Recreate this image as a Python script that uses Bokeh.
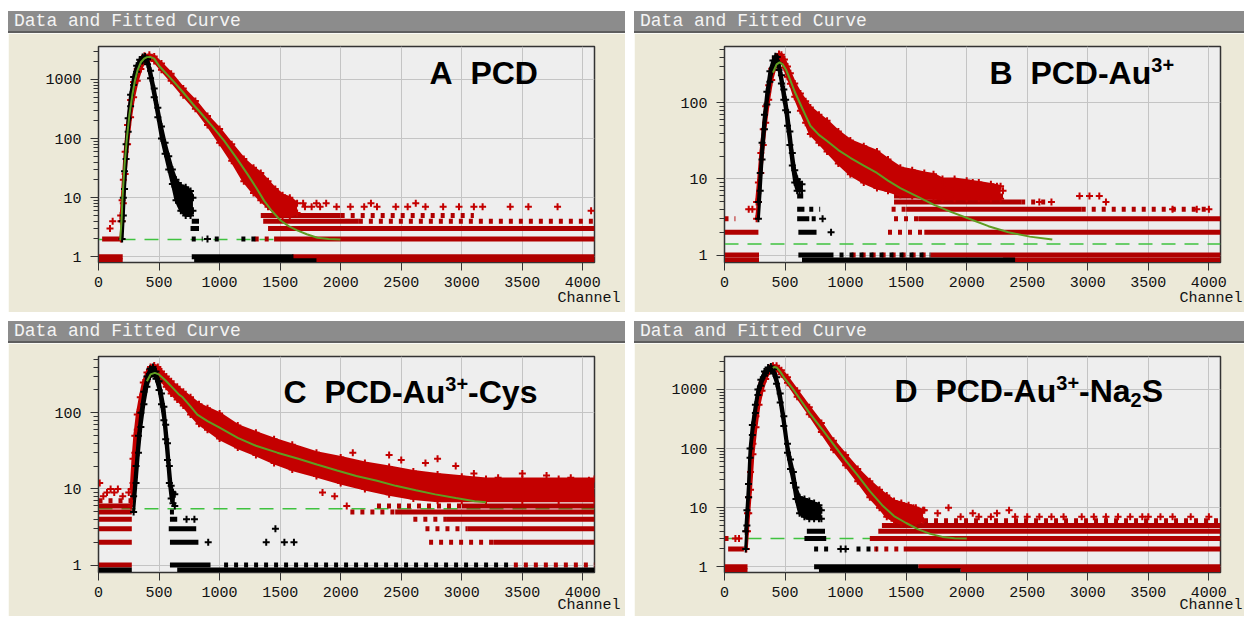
from bokeh.plotting import figure
from bokeh.layouts import column, row
from bokeh.models import Range1d, FixedTicker, Label, Span, NumeralTickFormatter, Spacer, Div, Title
from bokeh.embed import file_html
from bokeh.resources import INLINE

# ---------------- data ----------------
X_TICKS = [0, 500, 1000, 1500, 2000, 2500, 3000, 3500, 4000]
Y_MAJOR = [1, 10, 100, 1000]
Y_MINOR = [2, 3, 4, 5, 6, 7, 8, 9, 20, 30, 40, 50, 60, 70, 80, 90,
           200, 300, 400, 500, 600, 700, 800, 900, 2000, 3000]

# Panel A  PCD
A_BG = 1.95
A_FIT_CH = [179, 190, 198, 215, 234, 255, 281, 300, 322, 350, 377, 400, 427, 460, 500, 560, 625, 700, 780,
            845, 940, 1037, 1130, 1230, 1300, 1367, 1430, 1504, 1570, 1641, 1720, 1807, 1900, 1998]
A_FIT_Y = [1.9, 4, 10, 35, 100, 250, 570, 930, 1420, 1950, 2240, 2380, 2400, 2250, 1700, 1250, 900, 600, 380,
           270, 160, 92, 50, 25, 15, 8.9, 6.0, 4.1, 3.3, 2.8, 2.4, 2.1, 2.0, 1.95]
A_DAT_CH = [185, 195, 205, 220, 240, 265, 290, 320, 350, 380, 420, 460, 520, 600, 700, 800, 900, 1000, 1100,
            1200, 1280, 1340, 1400, 1460, 1520, 1580, 1640]
A_DAT_HI = [4, 9, 20, 60, 170, 450, 900, 1500, 2100, 2500, 2600, 2450, 1850, 1250, 700, 430, 240, 145, 80,
            45, 32, 26, 19, 14, 11, 10, 8]
A_DAT_LO = [2, 4, 8, 25, 80, 230, 500, 950, 1500, 2050, 2200, 2050, 1450, 950, 540, 320, 170, 85, 42,
            19, 12, 9, 7, 5.5, 5, 5, 5.5]
A_IRF_CH = [195, 205, 215, 228, 245, 265, 290, 315, 340, 365, 385, 405, 430, 460, 490, 520, 550, 580, 610,
            640, 680, 720, 760, 780]
A_IRF_HI = [4, 10, 28, 80, 220, 550, 1100, 1700, 2150, 2400, 2450, 2200, 1400, 700, 330, 160, 85, 50, 30,
            20, 16, 15, 13, 10]
A_IRF_LO = [2, 5, 14, 45, 130, 350, 800, 1350, 1850, 2100, 2150, 1800, 1050, 500, 230, 100, 55, 30, 17,
            9, 6, 5, 5, 6]
A_RED_ROW_LV = [0, 0, 1, 1, 2, 2, 3, 4, 5]
A_RED_ROW_X0 = [0, 1750, 0, 1600, 30, 1450, 1400, 1360, 1340]
A_RED_ROW_X1 = [200, 4096, 200, 4096, 185, 4096, 4096, 2150, 2000]
A_RED_SPR_LV = [2, 4, 5]
A_RED_SPR_X0 = [1290, 2150, 2000]
A_RED_SPR_X1 = [1450, 4096, 3100]
A_BLK_ROW_LV = [0, 1, 3, 4]
A_BLK_ROW_X0 = [790, 770, 760, 770]
A_BLK_ROW_X1 = [1800, 1610, 830, 830]
A_BLK_SPR_LV = [2, 2, 2]
A_BLK_SPR_X0 = [770, 960, 1180]
A_BLK_SPR_X1 = [860, 1040, 1300]
A_RED_PT_CH = [95, 117, 183, 1690, 1705, 1760, 1800, 1830, 1880, 1966, 2080, 2194, 2250, 2300, 2455, 2553,
               2620, 2700, 2846, 2977, 3100, 3172, 3400, 3550, 3791, 4068]
A_RED_PT_Y = [3, 4, 5, 8, 7, 7, 8, 7, 8, 7, 7, 7, 8, 7, 7, 7, 8, 7, 7, 7, 7, 7, 7, 7, 7, 6]
A_BLK_PT_CH = [900]
A_BLK_PT_Y = [2]

# Panel B  PCD-Au3+
B_BG = 1.4
B_FIT_CH = [400, 430, 455, 480, 510, 544, 580, 627, 670, 709, 780, 847, 940, 1039, 1150, 1259, 1350, 1452,
            1590, 1726, 1870, 2020, 2180, 2344, 2520, 2707]
B_FIT_Y = [250, 320, 340, 320, 270, 198, 140, 96, 68, 50, 38, 31.6, 24, 19, 15, 12, 9.5, 7.6,
           5.9, 4.6, 3.7, 3.0, 2.4, 2.0, 1.75, 1.6]
B_DAT_CH = [265, 280, 300, 320, 340, 365, 390, 420, 450, 470, 495, 520, 544, 580, 627, 670, 709, 780, 847,
            940, 1039, 1150, 1259, 1350, 1452, 1550, 1650, 1726, 1800, 1900, 2000, 2100, 2200, 2280]
B_DAT_HI = [5, 9, 22, 45, 90, 170, 280, 390, 440, 430, 370, 300, 245, 180, 133, 105, 87, 70, 58,
            42, 32, 27, 23, 18, 14, 13, 12, 11.5, 10, 10, 9.5, 9, 8.5, 8]
B_DAT_LO = [3, 5, 12, 28, 55, 110, 200, 300, 350, 350, 290, 220, 178, 120, 79, 55, 39, 30, 23,
            16, 11.5, 9, 7.6, 7, 6.2, 6, 5.6, 5.6, 5.5, 5.5, 5.5, 5.5, 5.5, 5.5]
B_IRF_CH = [280, 295, 310, 330, 350, 375, 400, 420, 435, 450, 470, 490, 505, 520, 540, 560, 580, 600, 620, 640]
B_IRF_HI = [5, 12, 30, 70, 140, 260, 360, 410, 400, 330, 230, 150, 110, 75, 42, 22, 13, 10, 9, 8.5]
B_IRF_LO = [3, 7, 18, 45, 95, 190, 290, 350, 340, 270, 180, 110, 80, 50, 28, 15, 9, 7, 7, 7]
B_RED_ROW_LV = [0, 0, 1, 1, 2, 2, 3, 4, 5, 6]
B_RED_ROW_X0 = [0, 2300, 0, 1700, 0, 1650, 1600, 1500, 1400, 1400]
B_RED_ROW_X1 = [285, 4096, 285, 4096, 280, 4096, 4096, 2950, 2450, 2300]
B_RED_SPR_LV = [1, 2, 3, 3, 4, 4, 5]
B_RED_SPR_X0 = [1050, 1350, 0, 1400, 1380, 2950, 2450]
B_RED_SPR_X1 = [1700, 1650, 90, 1600, 1500, 4000, 2650]
B_BLK_ROW_LV = [0, 1, 2, 3, 4, 6]
B_BLK_ROW_X0 = [640, 610, 610, 600, 600, 600]
B_BLK_ROW_X1 = [2400, 900, 760, 700, 660, 650]
B_BLK_SPR_LV = [1, 3, 4]
B_BLK_SPR_X0 = [950, 720, 700]
B_BLK_SPR_X1 = [1700, 790, 790]
B_RED_PT_CH = [200, 230, 1480, 1550, 1600, 1650, 1700, 1750, 1800, 1850, 1900, 1950, 2000, 2050, 2100, 2250,
               2300, 2600, 2700, 2932, 3014, 3095, 3150, 3700, 3900, 4000, 1600, 1800, 2050]
B_RED_PT_Y = [4, 4, 8, 7, 8, 7, 8, 7, 8, 7, 8, 7, 8, 7, 8, 8, 7, 5, 5, 6, 6, 6, 5, 4, 4, 4, 9, 9, 9]
B_BLK_PT_CH = [880, 810]
B_BLK_PT_Y = [2, 3]

# Panel C  PCD-Au3+-Cys
C_BG = 5.5
C_FIT_CH = [400, 430, 465, 499, 550, 597, 662, 695, 760, 816, 900, 1000, 1150, 1300, 1477, 1650, 1803, 1970,
            2129, 2300, 2455, 2620, 2781, 2950, 3107, 3200]
C_FIT_Y = [260, 320, 335, 320, 270, 226, 176, 160, 122, 95, 78, 64, 47, 37, 30, 25, 21, 17.5,
           14.8, 12.8, 11, 9.6, 8.5, 7.6, 6.9, 6.7]
C_DAT_CH = [270, 285, 300, 320, 345, 370, 400, 430, 460, 490, 520, 560, 600, 650, 700, 760, 830, 900, 1000,
            1150, 1300, 1450, 1600, 1800, 2000, 2200, 2400, 2600, 2800, 3000, 3200, 3500, 3800, 4096]
C_DAT_HI = [10, 25, 50, 95, 160, 250, 340, 400, 420, 400, 350, 300, 260, 220, 190, 160, 130, 115, 98,
            68, 55, 45, 38, 30, 26, 22, 19.5, 17, 15.5, 14.5, 13.5, 13.5, 13.5, 13.5]
C_DAT_LO = [6, 12, 30, 60, 110, 180, 260, 320, 340, 320, 270, 220, 180, 150, 125, 95, 72, 60, 46,
            35, 28, 22, 18, 14.8, 12, 10, 8.5, 7.5, 7, 7, 7, 7, 7, 7]
C_IRF_CH = [290, 310, 330, 350, 375, 400, 425, 450, 475, 500, 520, 540, 555, 570, 585, 600, 615, 630]
C_IRF_HI = [8, 20, 50, 100, 190, 300, 380, 400, 350, 260, 180, 120, 70, 40, 20, 11, 9, 8.5]
C_IRF_LO = [5, 12, 30, 65, 130, 220, 300, 330, 280, 200, 130, 80, 45, 24, 12, 7.5, 6.5, 6]
C_RED_ROW_LV = [1, 2, 3, 4, 5, 6, 2, 3, 4, 5, 6]
C_RED_ROW_X0 = [0, 0, 0, 0, 0, 0, 3260, 3050, 2870, 2450, 3000]
C_RED_ROW_X1 = [275, 275, 275, 275, 275, 275, 4096, 4096, 4096, 4096, 4096]
C_RED_SPR_LV = [7, 1, 2, 3, 4, 5, 6, 8]
C_RED_SPR_X0 = [0, 3430, 2730, 2700, 2600, 2080, 2300, 3000]
C_RED_SPR_X1 = [275, 4096, 3260, 3050, 2870, 2450, 3000, 4096]
C_BLK_ROW_LV = [0, 0, 1, 2, 3, 4]
C_BLK_ROW_X0 = [0, 650, 590, 590, 580, 590]
C_BLK_ROW_X1 = [275, 4096, 925, 825, 807, 650]
C_BLK_SPR_LV = [1, 5]
C_BLK_SPR_X0 = [1037, 590]
C_BLK_SPR_X1 = [3430, 650]
C_RED_PT_CH = [10, 40, 70, 100, 130, 160, 200, 250, 1850, 1950, 2050, 2100, 2400, 2500, 2700, 2800, 2950,
               3100, 3300, 3500, 3700, 3900, 4050, 3450, 3600, 3850, 4000]
C_RED_PT_Y = [12, 8, 9, 10, 9, 10, 8, 9, 9, 8, 6, 30, 28, 24, 22, 25, 20, 16, 14, 16, 15, 14, 13, 12, 12, 12, 11]
C_BLK_PT_CH = [727, 792, 906, 1461, 1385, 1535, 1614]
C_BLK_PT_Y = [4, 4, 2, 3, 2, 2, 2]

# Panel D  PCD-Au3+-Na2S
D_BG = 3.0
D_FIT_CH = [400, 410, 430, 460, 500, 560, 620, 700, 800, 911, 1000, 1100, 1200, 1302, 1400, 1500, 1600, 1700,
            1800, 1900, 2000]
D_FIT_Y = [2300, 2400, 2350, 2000, 1500, 1050, 700, 405, 220, 110, 63, 35, 19, 11, 7.2, 5.5, 4.3, 3.6,
           3.2, 3.05, 3.0]
D_DAT_CH = [180, 190, 200, 215, 235, 260, 285, 310, 340, 370, 400, 430, 470, 520, 600, 700, 800, 900, 1000,
            1100, 1200, 1280, 1340, 1400, 1460, 1520, 1580, 1640]
D_DAT_HI = [4, 8, 15, 40, 120, 350, 800, 1300, 1900, 2300, 2500, 2500, 2100, 1600, 950, 500, 270, 135, 78,
            45, 28, 20, 16, 13, 12, 11, 10, 9]
D_DAT_LO = [2, 4, 8, 20, 80, 230, 550, 950, 1500, 2000, 2200, 2200, 1800, 1300, 750, 380, 190, 95, 52,
            28, 15, 10, 7, 6, 5.5, 5.5, 5.5, 6]
D_IRF_CH = [175, 185, 198, 211, 230, 255, 276, 300, 330, 360, 383, 405, 430, 460, 490, 520, 545, 569, 590,
            620, 660, 700, 740, 780, 800]
D_IRF_HI = [4, 9, 25, 100, 250, 550, 1000, 1450, 2000, 2350, 2450, 2200, 1600, 850, 350, 120, 65, 40, 22,
            15, 14, 13, 12, 11, 9]
D_IRF_LO = [2, 5, 15, 70, 170, 400, 800, 1150, 1700, 2050, 2150, 1850, 1250, 600, 240, 85, 45, 26, 14,
            8, 7, 6.5, 6.5, 6.5, 6.5]
D_RED_ROW_LV = [0, 0, 1, 1, 2, 2, 3, 4, 5]
D_RED_ROW_X0 = [0, 1950, 0, 1600, 30, 1480, 1200, 1270, 1300]
D_RED_ROW_X1 = [190, 4096, 190, 4096, 160, 4096, 4096, 4096, 4096]
D_RED_SPR_LV = [3, 2, 6]
D_RED_SPR_X0 = [0, 1237, 1400]
D_RED_SPR_X1 = [55, 1480, 4096]
D_BLK_ROW_LV = [0, 1, 3, 4]
D_BLK_ROW_X0 = [780, 740, 660, 680]
D_BLK_ROW_X1 = [1950, 1600, 840, 830]
D_BLK_SPR_LV = [2, 2]
D_BLK_SPR_X0 = [740, 1090]
D_BLK_SPR_X1 = [870, 1260]
D_RED_PT_CH = [1500, 1560, 1650, 1760, 1850, 1950, 2050, 2100, 2200, 2250, 2350, 2400, 2500, 2600, 2700,
               2800, 2950, 3050, 3150, 3250, 3350, 3450, 3500, 3600, 3700, 3850, 4000, 90, 120]
D_RED_PT_Y = [9, 10, 9, 8, 10, 7, 8, 7, 7, 8, 9, 7, 7, 7, 7, 7, 7, 7, 7, 7, 7, 7, 7, 7, 7, 7, 7, 3, 3]
D_BLK_PT_CH = [960, 1000]
D_BLK_PT_Y = [2, 2]

# ---------------- style ----------------
BEIGE = "#ECE9D8"
BAR = "#8c8c8c"
PLOT_BG = "#eeeeee"
GRID = "#c4c4c4"
RED = "#c40000"
ROWRED = "#b00000"
BLACK = "#000000"
FIT = "#5f9e22"
BGLINE = "#3fc23f"
MONO = "Liberation Mono"
SANS = "Liberation Sans"
ZERO_Y = 0.86  # where zero-count channels are drawn (bottom edge)

ADV = {"A": .722, "B": .722, "C": .722, "D": .722, "P": .667, "u": .611, "s": .556, "y": .556,
       "a": .556, "N": .722, "S": .667, "-": .333, " ": .278, "2": .556, "3": .556, "+": .584}


def lv(levels):
    return [l if l > 0 else ZERO_Y for l in levels]


def title_bar(width):
    return Div(text="Data and Fitted Curve", width=width, height=22, margin=0,
               styles={"background-color": BAR, "color": "#f4f4f4",
                       "font-family": "'Liberation Mono', monospace", "font-size": "18px",
                       "line-height": "20px", "padding-left": "6px", "box-sizing": "border-box",
                       "border-bottom": "2px solid #5e5e5e", "white-space": "pre", "overflow": "hidden"})


def rows(p, lvls, x0, x1, color, sparse=False):
    y = lv(lvls)
    kw = dict(line_color=color, line_width=5, line_cap="butt")
    if sparse:
        kw["line_dash"] = "4 6"
    p.segment(x0=x0, y0=y, x1=x1, y1=y, **kw)


def cloud(p, ch, lo, hi, color):
    p.varea(x=ch, y1=lo, y2=hi, fill_color=color)
    p.line(ch, hi, line_color=color, line_width=3)
    p.line(ch, lo, line_color=color, line_width=3)
    p.scatter(ch, hi, marker="cross", size=7, line_width=2, line_color=color)
    p.scatter(ch, lo, marker="cross", size=7, line_width=2, line_color=color)


def make_panel(width, height, b_right, b_bottom, ymax, d, pieces, lx, ly, chan_offset, chan_standoff):
    p = figure(width=width, height=height, x_range=Range1d(0, 4096), y_range=Range1d(0.8, ymax),
               y_axis_type="log", toolbar_location=None, output_backend="svg",
               min_border_left=90, min_border_right=b_right, min_border_top=13, min_border_bottom=b_bottom)
    p.background_fill_color = PLOT_BG
    p.border_fill_color = BEIGE
    p.outline_line_color = "#333333"
    p.outline_line_width = 1.5
    p.xgrid.ticker = FixedTicker(ticks=X_TICKS)
    p.ygrid.ticker = FixedTicker(ticks=Y_MAJOR)
    p.grid.grid_line_color = GRID
    p.grid.grid_line_width = 1
    p.xaxis.ticker = FixedTicker(ticks=X_TICKS)
    p.yaxis.ticker = FixedTicker(ticks=Y_MAJOR, minor_ticks=Y_MINOR)
    p.yaxis.formatter = NumeralTickFormatter(format="0")
    for ax in (p.xaxis[0], p.yaxis[0]):
        ax.major_label_text_font = MONO
        ax.major_label_text_font_size = "15px"
        ax.major_label_text_color = "#111111"
        ax.axis_line_color = "#333333"
        ax.major_tick_line_color = "#333333"
        ax.minor_tick_line_color = "#333333"
        ax.major_tick_out = 8
        ax.major_tick_in = 0
        ax.minor_tick_out = 5
        ax.minor_tick_in = 0
    p.xaxis.major_label_standoff = 6
    p.yaxis.major_label_standoff = 9

    # "Channel" caption at the right end, below the tick labels
    p.add_layout(Title(text="Channel", align="right", offset=chan_offset, standoff=chan_standoff,
                       vertical_align="top", text_font=MONO, text_font_size="15px",
                       text_font_style="normal", text_color="#111111"), "below")

    p.add_layout(Span(location=d["bg"], dimension="width", line_color=BGLINE, line_width=1.5,
                      line_dash="14 9", level="underlay"))
    rows(p, d["rr"][0], d["rr"][1], d["rr"][2], ROWRED)
    rows(p, d["rs"][0], d["rs"][1], d["rs"][2], ROWRED, sparse=True)
    cloud(p, d["dat"][0], d["dat"][1], d["dat"][2], RED)
    p.scatter(d["rp"][0], d["rp"][1], marker="cross", size=7, line_width=2, line_color=RED)
    rows(p, d["br"][0], d["br"][1], d["br"][2], BLACK)
    rows(p, d["bs"][0], d["bs"][1], d["bs"][2], BLACK, sparse=True)
    cloud(p, d["irf"][0], d["irf"][1], d["irf"][2], BLACK)
    p.scatter(d["bp"][0], d["bp"][1], marker="cross", size=7, line_width=2, line_color=BLACK)
    p.line(d["fit"][0], d["fit"][1], line_color=FIT, line_width=2)

    # panel label built from pieces (text, size, raise, gap after)
    x = lx
    for txt, size, rise, gap in pieces:
        p.add_layout(Label(x=x, y=ly + rise, x_units="screen", y_units="screen", text=txt,
                           text_font=SANS, text_font_style="bold", text_font_size=f"{size}px",
                           text_color="#000000", text_baseline="middle", text_align="left"))
        x += sum(ADV.get(c, .6) for c in txt) * size + gap
    return p


def pack(bg, fit, dat, irf, rr, rs, br, bs, rp, bp):
    return dict(bg=bg, fit=fit, dat=dat, irf=irf, rr=rr, rs=rs, br=br, bs=bs, rp=rp, bp=bp)


DA = pack(A_BG, (A_FIT_CH, A_FIT_Y), (A_DAT_CH, A_DAT_LO, A_DAT_HI), (A_IRF_CH, A_IRF_LO, A_IRF_HI),
          (A_RED_ROW_LV, A_RED_ROW_X0, A_RED_ROW_X1), (A_RED_SPR_LV, A_RED_SPR_X0, A_RED_SPR_X1),
          (A_BLK_ROW_LV, A_BLK_ROW_X0, A_BLK_ROW_X1), (A_BLK_SPR_LV, A_BLK_SPR_X0, A_BLK_SPR_X1),
          (A_RED_PT_CH, A_RED_PT_Y), (A_BLK_PT_CH, A_BLK_PT_Y))
DB = pack(B_BG, (B_FIT_CH, B_FIT_Y), (B_DAT_CH, B_DAT_LO, B_DAT_HI), (B_IRF_CH, B_IRF_LO, B_IRF_HI),
          (B_RED_ROW_LV, B_RED_ROW_X0, B_RED_ROW_X1), (B_RED_SPR_LV, B_RED_SPR_X0, B_RED_SPR_X1),
          (B_BLK_ROW_LV, B_BLK_ROW_X0, B_BLK_ROW_X1), (B_BLK_SPR_LV, B_BLK_SPR_X0, B_BLK_SPR_X1),
          (B_RED_PT_CH, B_RED_PT_Y), (B_BLK_PT_CH, B_BLK_PT_Y))
DC = pack(C_BG, (C_FIT_CH, C_FIT_Y), (C_DAT_CH, C_DAT_LO, C_DAT_HI), (C_IRF_CH, C_IRF_LO, C_IRF_HI),
          (C_RED_ROW_LV, C_RED_ROW_X0, C_RED_ROW_X1), (C_RED_SPR_LV, C_RED_SPR_X0, C_RED_SPR_X1),
          (C_BLK_ROW_LV, C_BLK_ROW_X0, C_BLK_ROW_X1), (C_BLK_SPR_LV, C_BLK_SPR_X0, C_BLK_SPR_X1),
          (C_RED_PT_CH, C_RED_PT_Y), (C_BLK_PT_CH, C_BLK_PT_Y))
DD = pack(D_BG, (D_FIT_CH, D_FIT_Y), (D_DAT_CH, D_DAT_LO, D_DAT_HI), (D_IRF_CH, D_IRF_LO, D_IRF_HI),
          (D_RED_ROW_LV, D_RED_ROW_X0, D_RED_ROW_X1), (D_RED_SPR_LV, D_RED_SPR_X0, D_RED_SPR_X1),
          (D_BLK_ROW_LV, D_BLK_ROW_X0, D_BLK_ROW_X1), (D_BLK_SPR_LV, D_BLK_SPR_X0, D_BLK_SPR_X1),
          (D_RED_PT_CH, D_RED_PT_Y), (D_BLK_PT_CH, D_BLK_PT_Y))

SUP = (20, 8)
SUB = (20, -9)
pA = make_panel(617, 279, 31, 50, 3600, DA,
                [("A", 32, 0, 17.8), ("PCD", 32, 0, 0)], 331, 190, -26, 0)
pB = make_panel(610, 279, 24, 50, 550, DB,
                [("B", 32, 0, 17.8), ("PCD-Au", 32, 0, 0), ("3+", SUP[0], SUP[1], 0)], 265, 190, -22, 0)
pC = make_panel(617, 273, 31, 44, 550, DC,
                [("C", 32, 0, 17.8), ("PCD-Au", 32, 0, 0), ("3+", SUP[0], SUP[1], 0), ("-Cys", 32, 0, 0)],
                185, 181, -26, -6)
pD = make_panel(610, 273, 24, 44, 3600, DD,
                [("D", 32, 0, 17.8), ("PCD-Au", 32, 0, 0), ("3+", SUP[0], SUP[1], 0), ("-Na", 32, 0, 0),
                 ("2", SUB[0], SUB[1], 0), ("S", 32, 0, 0)], 170, 182, -22, -6)

top = row(Spacer(width=8, height=301), column(title_bar(617), pA), Spacer(width=9, height=301),
          column(title_bar(610), pB))
bot = row(Spacer(width=8, height=295), column(title_bar(617), pC), Spacer(width=9, height=295),
          column(title_bar(610), pD))
layout = column(Spacer(width=1244, height=11), top, Spacer(width=1244, height=9), bot)

open("out.html", "w").write(file_html(layout, INLINE))
